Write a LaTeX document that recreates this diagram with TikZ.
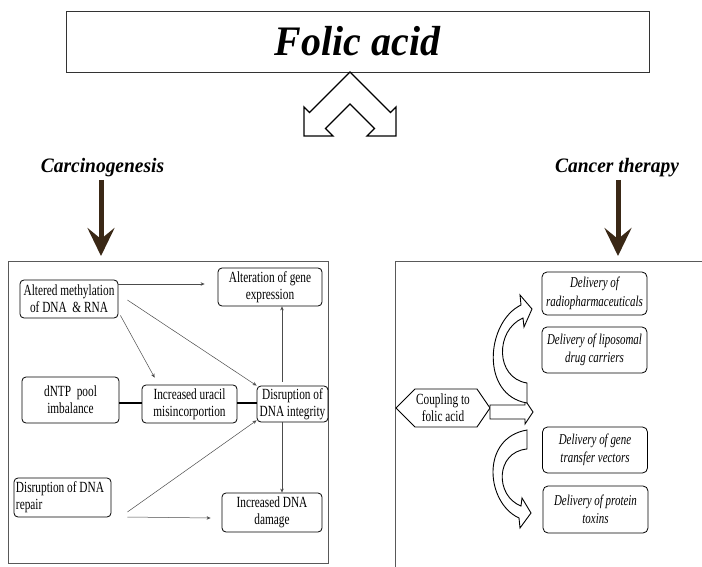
\documentclass[tikz,border=0pt]{standalone}
\usepackage{fontspec}
\setmainfont{Liberation Serif}
\newfontfamily\cond[FakeStretch=0.73]{Liberation Serif}
\newfontfamily\titlef[FakeStretch=0.95]{Liberation Serif}
\usetikzlibrary{arrows.meta}
\definecolor{brownarrow}{HTML}{3A2816}
\tikzset{
  lbox/.style={draw=black, line width=0.8pt, rounded corners=4pt, align=center,
    font=\cond\fontsize{15.5}{17}\selectfont, inner sep=1pt},
  rbox/.style={draw=black, line width=0.8pt, rounded corners=5pt, align=center,
    font=\cond\itshape\fontsize{15}{18.5}\selectfont, inner sep=1pt,
    minimum width=105pt},
  arr/.style={draw=black!70, line width=0.5pt, -{Stealth[length=4pt,width=3.5pt]}},
  thickline/.style={draw=black, line width=2.2pt},
  frame/.style={draw=black!65, line width=0.9pt},
  bigarrow/.style={draw=brownarrow, line width=5pt, -{Stealth[length=28pt,width=27pt,inset=11pt]}},
  heading/.style={font=\titlef\bfseries\itshape\fontsize{20.5}{24}\selectfont, anchor=base},
  blockshape/.style={draw=black, line width=1pt, fill=white, line join=miter},
}
\begin{document}
\begin{tikzpicture}[x=1pt,y=-1pt]
\useasboundingbox (0,0) rectangle (702,567);
\fill[white] (0,0) rectangle (702,567);
\clip (0,0) rectangle (702,567);

% title
\node[draw=black!80, line width=0.9pt, minimum width=583pt, minimum height=61pt, inner sep=0pt,
  font=\titlef\bfseries\itshape\fontsize{42}{46}\selectfont] (title) at (357.5,41.5) {Folic acid};

% double chevron arrow
\draw[blockshape, line width=1.4pt] (350,72) -- (309.5,112.5) -- (304,107) -- (304,136) -- (333,136)
  -- (325.5,128.5) -- (350,104) -- (374.5,128.5) -- (367,136) -- (396,136) -- (396,107)
  -- (390.5,112.5) -- cycle;

% headings
\node[heading] (carc) at (102.5,173) {Carcinogenesis};
\node[heading] (ther) at (617,173) {Cancer therapy};
\coordinate (carcend) at (101,256);
\coordinate (therend) at (618,256);
\draw[bigarrow] ([xshift=-1.5pt,yshift=-7pt]carc.base) -- (carcend);
\draw[bigarrow] ([xshift=1pt,yshift=-7pt]ther.base) -- (therend);

% frames
\draw[frame] (8,261) rectangle (328,563);
\draw[frame] (705,261) -- (395,261) -- (395,570);

% left diagram nodes
\node[lbox, minimum width=98pt, minimum height=38pt] (alt) at (69,299) {Altered methylation\\of DNA\ \ \& RNA};
\node[lbox, minimum width=104pt, minimum height=38pt] (altr) at (270,287) {Alteration of gene\\expression};
\node[lbox, minimum width=97pt, minimum height=46pt] (dntp) at (70.5,400) {dNTP\ \ pool\\imbalance};
\node[lbox, minimum width=95pt, minimum height=38pt] (ura) at (189.5,404) {Increased uracil\\misincorportion};
\node[lbox, minimum width=71pt, minimum height=36pt] (integ) at (292.5,404) {Disruption of\\DNA integrity};
\node[lbox, minimum width=97pt, minimum height=39pt, align=flush left, text width=93pt, inner xsep=2pt] (rep) at (62.5,497.5) {Disruption of DNA\\repair};
\node[lbox, minimum width=100pt, minimum height=39pt] (dam) at (272,512.5) {Increased DNA\\damage};

% left connectors
\draw[arr] ([yshift=15pt]alt.east) -- ([xshift=-13pt,yshift=3pt]altr.west);
\draw[arr] ([xshift=9pt,yshift=-1pt]alt.east) -- (integ.north west);
\draw[arr] ([xshift=2pt,yshift=3pt]alt.south east) -- ([xshift=13pt,yshift=7pt]ura.north west);
\draw[thickline] ([yshift=-3pt]dntp.east) -- ([yshift=1pt]ura.west);
\draw[thickline] ([yshift=1pt]ura.east) -- ([yshift=1pt]integ.west);
\draw[arr] ([xshift=-10.5pt,yshift=4pt]integ.north) -- ([xshift=12pt]altr.south);
\draw[arr] ([xshift=-10.5pt]integ.south) -- ([xshift=10pt]dam.north);
\draw[arr] ([xshift=16pt,yshift=-14.5pt]rep.east) -- ([yshift=2pt]integ.south west);
\draw[arr] ([xshift=16pt,yshift=-19.5pt]rep.east) -- ([xshift=-11pt,yshift=-5.5pt]dam.west);

% right diagram
\node[font=\cond\fontsize{15.5}{17}\selectfont, align=center, inner sep=0pt] (coup) at (443,408) {Coupling to\\folic acid};
\draw[line width=0.9pt, line join=miter] (396,408) -- (415,389) -- (477,389) -- (490,408) -- (477,427) -- (415,427) -- cycle;

\node[rbox, minimum height=43pt] (rad) at (594.5,293.5) {Delivery of\\radiopharmaceuticals};
\node[rbox, minimum height=46pt] (lip) at (594.5,350) {Delivery of liposomal\\drug carriers};
\node[rbox, minimum height=46pt] (gene) at (595,450) {Delivery of gene\\transfer vectors};
\node[rbox, minimum height=47pt] (prot) at (595.5,509.5) {Delivery of protein\\toxins};

% block arrows
\draw[blockshape, line width=0.9pt] (490,405) -- (525,405) -- (525,400) -- (533,412) -- (525,424) -- (525,419) -- (490,419) -- cycle;
\draw[blockshape, line width=0.9pt] (527,403) .. controls (480,395) and (486,322) .. (521,305)
  -- (520,295) -- (532,309) -- (524,327) -- (523,318)
  .. controls (495,330) and (495,378) .. (527,383) -- cycle;
\draw[blockshape, line width=0.9pt] (527,430) .. controls (480,438) and (486,503) .. (519,518)
  -- (520,528) -- (531,513) -- (522,498) -- (521,506)
  .. controls (495,496) and (495,452) .. (527,449) -- cycle;
\end{tikzpicture}
\end{document}
